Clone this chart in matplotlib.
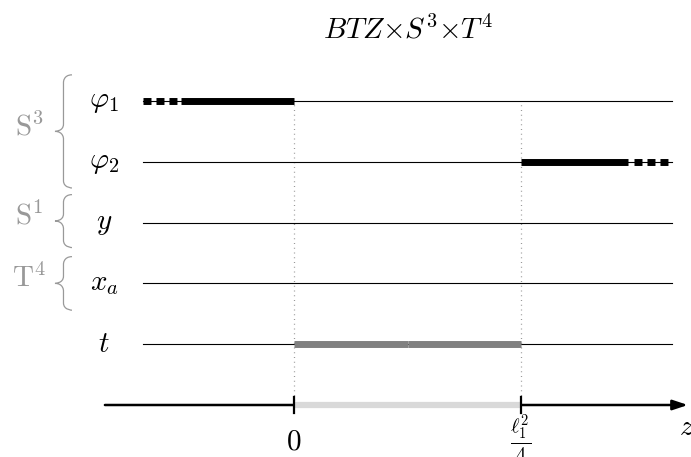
import matplotlib.pyplot as plt
from matplotlib.path import Path
from matplotlib.patches import PathPatch

plt.rcParams['mathtext.fontset'] = 'cm'
plt.rcParams['font.family'] = ['DejaVu Serif']

# rows (top to bottom) and their heights
row_labels = [r'$\varphi_1$', r'$\varphi_2$', r'$y$', r'$x_a$', r'$t$']
row_pos = [5, 4, 3, 2, 1]
axis_pos = 0

# z interval
z_ticks = [0, 1]
z_ticklabels = [r'$0$', r'$\frac{\ell_1^2}{4}$']

line_range = [-0.665, 1.665]
axis_range = [-0.833, 1.735]

# thick segments
phi1_solid = [-0.498, 0]
phi1_dash = [-0.665, -0.51]
phi2_solid = [1, 1.471]
phi2_dash = [1.498, 1.65]
t_segments = [[0, 0.5], [0.5, 1]]

# braces: (label, r_top, r_bottom)
braces = [(r'$\mathrm{S}^3$', 5.43, 3.57),
          (r'$\mathrm{S}^1$', 3.46, 2.59),
          (r'$\mathrm{T}^4$', 2.44, 1.56)]

fs = 21

fig = plt.figure(figsize=(6.91, 4.57), dpi=100)
ax = fig.add_axes([0, 0, 1, 1])
ax.set_xlim(-294 / 227, 397 / 227)
ax.set_ylim(-52 / 60.8, 405 / 60.8)
ax.axis('off')

# thin horizontal lines
for r in row_pos:
    ax.plot(line_range, [r, r], color='black', lw=0.8, zorder=2)

# dotted verticals
for z in z_ticks:
    ax.plot([z, z], [axis_pos, row_pos[0]], color='#999999', lw=0.9,
            ls=(0, (0.8, 3)), zorder=1)

# phi1 / phi2 thick
ax.plot(phi1_solid, [5, 5], color='black', lw=5, solid_capstyle='butt', zorder=3)
ax.plot(phi1_dash, [5, 5], color='black', lw=5, ls=(0, (1.15, 0.72)),
        dash_capstyle='butt', zorder=3)
ax.plot(phi2_solid, [4, 4], color='black', lw=5, solid_capstyle='butt', zorder=3)
ax.plot(phi2_dash, [4, 4], color='black', lw=5, ls=(0, (1.15, 0.72)),
        dash_capstyle='butt', zorder=3)

# t thick grey
for seg in t_segments:
    ax.plot(seg, [1, 1], color='#808080', lw=5, solid_capstyle='butt', zorder=3)

# z axis
ax.annotate('', xy=(axis_range[1], axis_pos), xytext=(axis_range[0], axis_pos),
            arrowprops=dict(arrowstyle='-|>,head_length=0.9,head_width=0.3',
                            color='black', lw=1.8, shrinkA=0, shrinkB=0), zorder=2)
ax.plot(z_ticks, [axis_pos, axis_pos], color='#d9d9d9', lw=4.5,
        solid_capstyle='butt', zorder=3)
for z in z_ticks:
    ax.plot([z, z], [axis_pos - 0.13, axis_pos + 0.13], color='black', lw=1.6, zorder=4)

# tick labels
ax.text(z_ticks[0], -0.6, z_ticklabels[0], ha='center', va='center', fontsize=fs)
ax.text(z_ticks[1], -0.56, z_ticklabels[1], ha='center', va='center', fontsize=fs)
ax.text(1.73, -0.36, r'$z$', ha='center', va='center', fontsize=fs)

# row labels
for lab, r in zip(row_labels, row_pos):
    ax.text(-0.837, r, lab, ha='center', va='center', fontsize=fs)

# braces
def brace(ax, x_tip, x_end, r_top, r_bot, color):
    xm = (x_tip + x_end) / 2
    rm = (r_top + r_bot) / 2
    h = 0.12
    verts = [(x_end, r_top),
             (xm, r_top), (xm, r_top - h), (xm, r_top - h),
             (xm, rm + h),
             (xm, rm), (x_tip, rm), (x_tip, rm),
             (xm, rm), (xm, rm - h), (xm, rm - h),
             (xm, r_bot + h),
             (xm, r_bot), (x_end, r_bot), (x_end, r_bot)]
    codes = [Path.MOVETO,
             Path.CURVE4, Path.CURVE4, Path.CURVE4,
             Path.LINETO,
             Path.CURVE4, Path.CURVE4, Path.CURVE4,
             Path.CURVE4, Path.CURVE4, Path.CURVE4,
             Path.LINETO,
             Path.CURVE4, Path.CURVE4, Path.CURVE4]
    ax.add_patch(PathPatch(Path(verts, codes), fill=False, edgecolor=color, lw=0.9))

for lab, rt, rb in braces:
    brace(ax, -1.053, -0.978, rt, rb, '#999999')
    ax.text(-1.167, (rt + rb) / 2 + 0.08, lab, ha='center', va='center', fontsize=fs,
            color='#999999')

# title
ax.text(0.5, 6.036, r'$BTZ{\times}S^3{\times}T^4$', ha='center', va='baseline',
        fontsize=fs)

fig.savefig('out.png', dpi=100)
